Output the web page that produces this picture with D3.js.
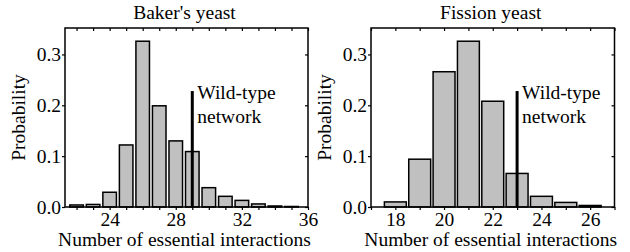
<!DOCTYPE html>
<html><head><meta charset="utf-8">
<script src="https://cdn.jsdelivr.net/npm/d3@7"></script>
<style>body{margin:0;background:#fff}svg{display:block}text{font-family:"Liberation Serif","Times New Roman",serif;fill:#000}</style>
</head><body><svg id="c" width="630" height="252"></svg>
<script>
const bakerX = [22,23,24,25,26,27,28,29,30,31,32,33,34,35];
const bakerP = [0.004,0.005,0.029,0.122,0.326,0.199,0.130,0.109,0.038,0.021,0.013,0.006,0.002,0.001];
const bakerTicks = [24,28,32,36];
const bakerWild = 29;
const fissionX = [18,19,20,21,22,23,24,25,26];
const fissionP = [0.010,0.094,0.266,0.326,0.208,0.066,0.021,0.009,0.003];
const fissionTicks = [18,20,22,24,26];
const fissionWild = 23;
const yTicks = [0,0.1,0.2,0.3];
const wildHeight = 0.228;

const FS = 19.5;
const svg = d3.select("#c");

function panel(opt){
  const g = svg.append("g");
  const x = d3.scaleLinear().domain(opt.domain).range([opt.x0, opt.x1]);
  const y = d3.scaleLinear().domain([0,0.352]).range([207,28]);
  const unit = x(1)-x(0);
  g.selectAll("rect.bar").data(opt.xs).join("rect")
    .attr("x", d=>x(d)-unit*opt.bw/2).attr("width", unit*opt.bw)
    .attr("y", (d,i)=>y(opt.ps[i])).attr("height",(d,i)=>y(0)-y(opt.ps[i]))
    .attr("fill","#c0c0c0").attr("stroke","#000").attr("stroke-width",1.5);
  g.append("line").attr("x1",x(opt.wild)).attr("x2",x(opt.wild))
    .attr("y1",y(0)).attr("y2",y(wildHeight)).attr("stroke","#000").attr("stroke-width",3);
  const tx = x(opt.wild)+5;
  g.append("text").attr("x",tx).attr("y",99).attr("font-size",FS).text("Wild-type");
  g.append("text").attr("x",tx).attr("y",123).attr("font-size",FS).text("network");
  const minor = d3.range(Math.ceil(opt.domain[0]), Math.floor(opt.domain[1])+1);
  const bottom = g.append("g").attr("transform",`translate(0,${y(0)})`)
    .call(d3.axisBottom(x).tickValues(minor).tickSize(3).tickFormat(d=>opt.ticks.includes(d)?d:""));
  const top = g.append("g").attr("transform",`translate(0,${y.range()[1]})`)
    .call(d3.axisBottom(x).tickValues(minor).tickSize(3).tickFormat(""));
  const left = g.append("g").attr("transform",`translate(${opt.x0},0)`)
    .call(d3.axisLeft(y).tickValues(yTicks).tickSize(3).tickFormat(d3.format(".1f")));
  const right = g.append("g").attr("transform",`translate(${opt.x1},0)`)
    .call(d3.axisLeft(y).tickValues(yTicks).tickSize(3).tickFormat(""));
  [bottom,top,left,right].forEach(a=>{
    a.select(".domain").remove();
    a.selectAll("line").attr("stroke","#000").attr("stroke-width",1.2);
    a.selectAll("text").attr("font-family",'"Liberation Serif",serif').attr("font-size",FS).attr("fill","#000");
  });
  bottom.selectAll("text").attr("y",5).attr("dy","0.72em");
  left.selectAll("text").attr("x",-4);
  g.append("rect").attr("x",opt.x0).attr("y",28).attr("width",opt.x1-opt.x0).attr("height",y(0)-28)
    .attr("fill","none").attr("stroke","#000").attr("stroke-width",1.5);
  const cx = (opt.x0+opt.x1)/2;
  g.append("text").attr("x",cx-2).attr("y",19).attr("text-anchor","middle").attr("font-size",FS).text(opt.title);
  g.append("text").attr("x",cx-2).attr("y",246).attr("text-anchor","middle").attr("font-size",FS).text("Number of essential interactions");
  g.append("text").attr("transform",`translate(${opt.x0-40},${(y(0)+28)/2}) rotate(-90)`)
    .attr("text-anchor","middle").attr("font-size",FS).text("Probability");
}

panel({xs:bakerX, ps:bakerP, ticks:bakerTicks, wild:bakerWild, domain:[21.3,36], x0:65, x1:308, bw:0.82, title:"Baker's yeast"});
panel({xs:fissionX, ps:fissionP, ticks:fissionTicks, wild:fissionWild, domain:[17,27], x0:371, x1:614.5, bw:0.9, title:"Fission yeast"});
</script></body></html>
